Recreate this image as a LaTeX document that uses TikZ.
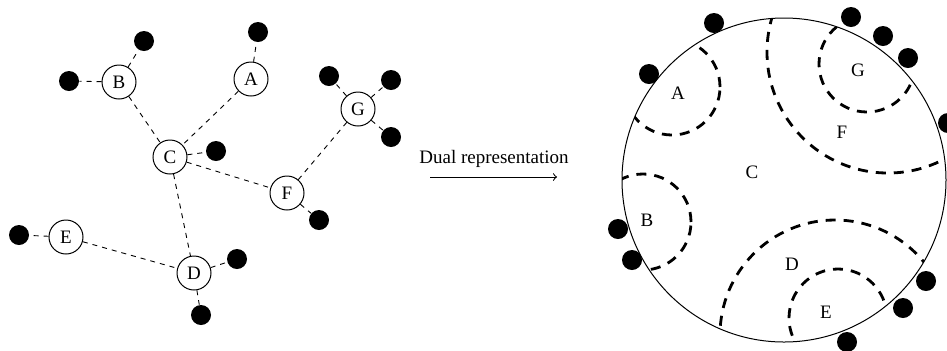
\documentclass[tikz,border=0pt]{standalone}
\usepackage{fontspec}
\setmainfont{Liberation Serif}
\usepackage{tikz}
\usetikzlibrary{calc}

\begin{document}
\begin{tikzpicture}[x=0.5pt,y=-0.5pt,
    vert/.style={draw,circle,minimum size=17pt,inner sep=0pt,line width=0.5pt,font=\fontsize{9.5}{11}\selectfont},
    leaf/.style={fill,circle,minimum size=10pt,inner sep=0pt},
    link/.style={dash pattern=on 2.5pt off 2.5pt,line width=0.45pt},
    region/.style={dash pattern=on 5pt off 4pt,line width=1.4pt},
    lbl/.style={font=\fontsize{9.5}{11}\selectfont}]
    \useasboundingbox (0,0) rectangle (947,350);

            % the tree
            \node[vert] (A) at (251,79) {A};
            \node[vert] (B) at (119,82) {B};
            \node[vert] (C) at (170,157) {C};
            \node[vert] (D) at (194,273) {D};
            \node[vert] (E) at (66,237) {E};
            \node[vert] (F) at (287,193) {F};
            \node[vert] (G) at (358,109) {G};
            \draw[link] (B) -- (C);
            \draw[link] (A) -- (C);
            \draw[link] (C) -- (F);
            \draw[link] (C) -- (D);
            \draw[link] (E) -- (D);
            \draw[link] (F) -- (G);

            \node[leaf] (a1) at (258,32) {};
            \node[leaf] (b1) at (144,41) {};
            \node[leaf] (b2) at (69,81) {};
            \node[leaf] (c1) at (216,151) {};
            \node[leaf] (d1) at (237,259) {};
            \node[leaf] (d2) at (201,315) {};
            \node[leaf] (e1) at (19,235) {};
            \node[leaf] (f1) at (319,220) {};
            \node[leaf] (g1) at (329,76) {};
            \node[leaf] (g2) at (391,80) {};
            \node[leaf] (g3) at (391,137) {};
            \draw[link] (A) -- (a1);
            \draw[link] (B) -- (b1);
            \draw[link] (B) -- (b2);
            \draw[link] (C) -- (c1);
            \draw[link] (D) -- (d1);
            \draw[link] (D) -- (d2);
            \draw[link] (E) -- (e1);
            \draw[link] (F) -- (f1);
            \draw[link] (G) -- (g1);
            \draw[link] (G) -- (g2);
            \draw[link] (G) -- (g3);

            % arrow
            \coordinate (arrs) at (430,177);
            \coordinate (arre) at (557,177);
            \draw[->,line width=0.5pt] (arrs) -- (arre);
            \node[lbl] (dual) at (494,159) {Dual representation};

            % the disc
            \coordinate (O) at (784,180);
            \begin{scope}
                \clip (O) circle (81pt);
                \draw[region] (672,87) circle (24pt);
                \draw[region] (643,222) circle (24pt);
                \draw[region] (867,64) circle (24pt);
                \draw[region] (888,52) circle (60.5pt);
                \draw[region] (835,335) circle (57.5pt);
                \draw[region] (838,318) circle (24.5pt);
            \end{scope}
            \draw[line width=0.5pt] (O) circle (81pt);

            \node[lbl] (rA) at (678,93) {A};
            \node[lbl] (rB) at (647,220) {B};
            \node[lbl] (rC) at (752,172) {C};
            \node[lbl] (rD) at (792,264) {D};
            \node[lbl] (rE) at (826,312) {E};
            \node[lbl] (rF) at (842,132) {F};
            \node[lbl] (rG) at (858,70) {G};

            \node[leaf] (p1) at (714,23) {};
            \node[leaf] (p2) at (649,74) {};
            \node[leaf] (p3) at (851,17) {};
            \node[leaf] (p4) at (883,36) {};
            \node[leaf] (p5) at (908,58) {};
            \node[leaf] (p6) at (948,123) {};
            \node[leaf] (p7) at (618,229) {};
            \node[leaf] (p8) at (632,260) {};
            \node[leaf] (p9) at (926,281) {};
            \node[leaf] (p10) at (903,308) {};
            \node[leaf] (p11) at (847,342) {};
\end{tikzpicture}
\end{document}
